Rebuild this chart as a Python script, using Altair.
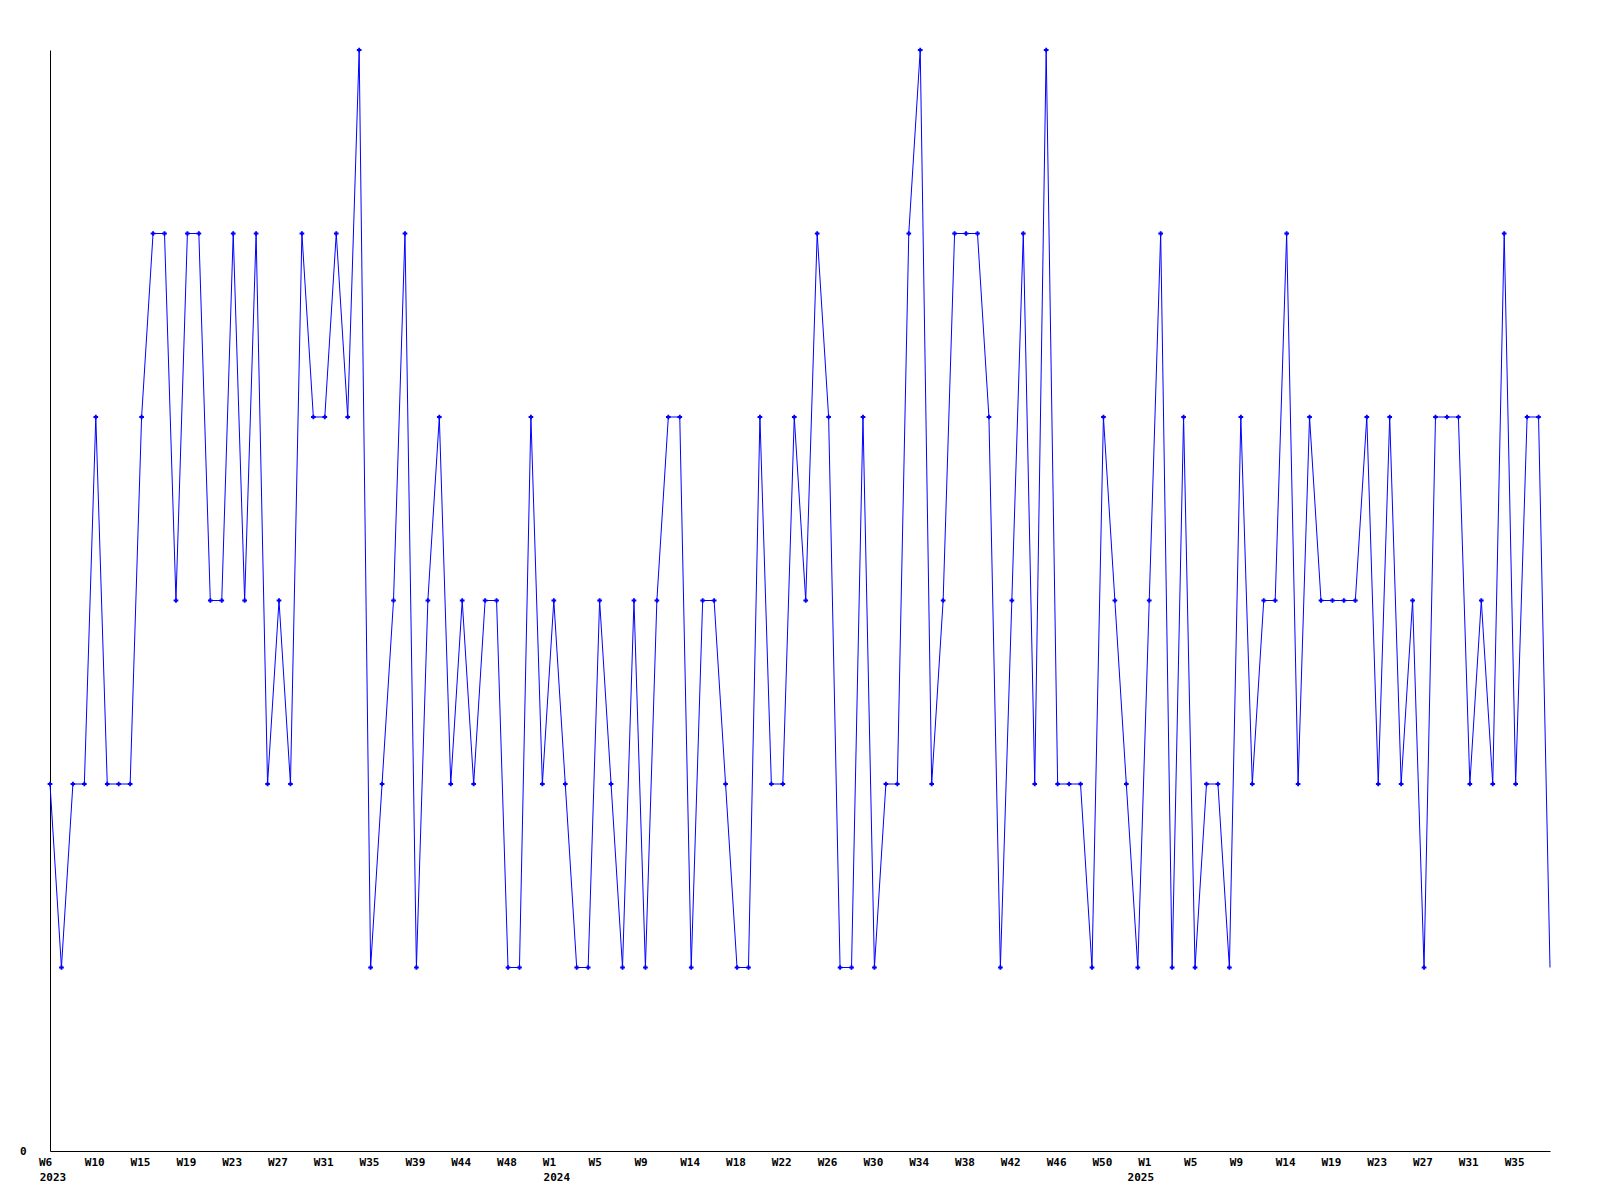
import altair as alt
import pandas as pd

values = [
    2, 1, 2, 2, 4, 2, 2, 2, 4, 5,
    5, 3, 5, 5, 3, 3, 5, 3, 5, 2,
    3, 2, 5, 4, 4, 5, 4, 6, 1, 2,
    3, 5, 1, 3, 4, 2, 3, 2, 3, 3,
    1, 1, 4, 2, 3, 2, 1, 1, 3, 2,
    1, 3, 1, 3, 4, 4, 1, 3, 3, 2,
    1, 1, 4, 2, 2, 4, 3, 5, 4, 1,
    1, 4, 1, 2, 2, 5, 6, 2, 3, 5,
    5, 5, 4, 1, 3, 5, 2, 6, 2, 2,
    2, 1, 4, 3, 2, 1, 3, 5, 1, 4,
    1, 2, 2, 1, 4, 2, 3, 3, 5, 2,
    4, 3, 3, 3, 3, 4, 2, 4, 2, 3,
    1, 4, 4, 4, 2, 3, 2, 5, 2, 4,
    4, 1,
]

tick_labels = [
    "W6", "W10", "W15", "W19", "W23", "W27", "W31", "W35", "W39", "W44", "W48",
    "W1", "W5", "W9", "W14", "W18", "W22", "W26", "W30", "W34", "W38", "W42", "W46", "W50",
    "W1", "W5", "W9", "W14", "W19", "W23", "W27", "W31", "W35",
]
tick_every = 4
year_names = ["2023", "2024", "2025"]
year_index = [0, 44, 95]

df = pd.DataFrame({"i": list(range(len(values))), "v": values})
df["marker"] = df["i"] < len(values) - 1

lab = pd.DataFrame({
    "i": [k * tick_every for k in range(len(tick_labels))],
    "t": tick_labels,
})
yrs = pd.DataFrame({"i": year_index, "yr": year_names})

W, H = 1500, 1101
xs = alt.Scale(domain=[0, len(values) - 1], nice=False, zero=False)
ys = alt.Scale(domain=[0, 6], nice=False)
FONT = "DejaVu Sans Mono"

xax = alt.Axis(labels=False, ticks=False, grid=False, title=None,
               domainColor="black", domainWidth=1)
yax = alt.Axis(values=[0], format="d", ticks=False, grid=False, title=None,
               domainColor="black", domainWidth=1, labelPadding=24,
               labelFont=FONT, labelFontWeight="bold", labelFontSize=11,
               labelColor="black")

base = alt.Chart(df)
line = base.mark_line(color="#0000ff", strokeWidth=1).encode(
    x=alt.X("i:Q", scale=xs, axis=xax),
    y=alt.Y("v:Q", scale=ys, axis=yax),
)
pts = base.transform_filter("datum.marker").mark_point(
    shape="cross", filled=True, size=22, color="#0000ff", opacity=1
).encode(
    x=alt.X("i:Q", scale=xs),
    y=alt.Y("v:Q", scale=ys),
)

wl = alt.Chart(lab).mark_text(
    align="left", baseline="alphabetic", dx=-11, font=FONT,
    fontWeight="bold", fontSize=11, color="black"
).encode(x=alt.X("i:Q", scale=xs), y=alt.value(H + 14.5), text="t:N")

yl = alt.Chart(yrs).mark_text(
    align="center", baseline="alphabetic", dx=3, font=FONT,
    fontWeight="bold", fontSize=11, color="black"
).encode(x=alt.X("i:Q", scale=xs), y=alt.value(H + 30), text="yr:N")

chart = alt.layer(line, pts, wl, yl).properties(
    width=W, height=H,
    background="white",
    autosize=alt.AutoSizeParams(type="none"),
    padding={"left": 42, "top": 42, "right": 42, "bottom": 42},
).configure_view(stroke=None, strokeWidth=0)

chart.save("out.html", embed_options={"renderer": "svg", "actions": False})
